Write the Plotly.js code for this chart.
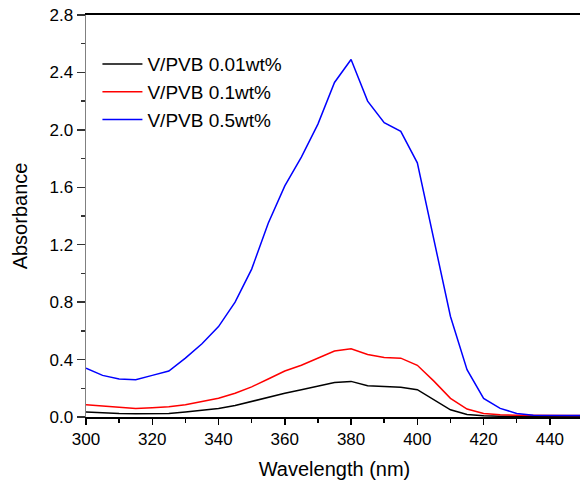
<!DOCTYPE html>
<html>
<head>
<meta charset="utf-8">
<script src="https://cdn.plot.ly/plotly-3.0.1.min.js"></script>
<style>
html,body{margin:0;padding:0;overflow:hidden;background:#fff;}
#chart{width:584px;height:484px;}
</style>
</head>
<body>
<div id="chart"></div>
<script>
const wavelength = [300,305,310,315,320,325,330,335,340,345,350,355,360,365,370,375,380,385,390,395,400,405,410,415,420,425,430,435,440,445,450];
const series001 = [0.035,0.028,0.024,0.022,0.023,0.025,0.035,0.048,0.06,0.08,0.11,0.14,0.165,0.19,0.215,0.24,0.248,0.218,0.212,0.207,0.19,0.12,0.05,0.018,0.008,0.005,0.005,0.005,0.005,0.005,0.005];
const series01 = [0.085,0.075,0.065,0.06,0.065,0.072,0.085,0.105,0.13,0.165,0.21,0.265,0.32,0.36,0.41,0.46,0.475,0.435,0.415,0.41,0.36,0.25,0.13,0.055,0.025,0.015,0.012,0.01,0.01,0.01,0.01];
const series05 = [0.34,0.29,0.265,0.26,0.29,0.32,0.41,0.51,0.63,0.80,1.03,1.35,1.61,1.81,2.04,2.33,2.49,2.20,2.05,1.99,1.77,1.23,0.70,0.33,0.13,0.06,0.025,0.012,0.01,0.01,0.01];
const names = ['V/PVB 0.01wt%','V/PVB 0.1wt%','V/PVB 0.5wt%'];
const colors = ['#000000','#ff0000','#0000ff'];
const xTicks = [300,320,340,360,380,400,420,440];
const yTicks = [0,0.4,0.8,1.2,1.6,2.0,2.4,2.8];
const yTickText = ['0.0','0.4','0.8','1.2','1.6','2.0','2.4','2.8'];

const ys = [series001, series01, series05];
const traces = ys.map((y,i)=>({
  x: wavelength, y: y, type:'scatter', mode:'lines', name: names[i],
  line:{color:colors[i], width:1.5}
}));

const font = 'Arial, "Liberation Sans", sans-serif';
const layout = {
  width:584, height:484,
  margin:{l:86, r:1, t:15, b:67},
  paper_bgcolor:'#fff', plot_bgcolor:'#fff',
  font:{family:font, color:'#000'},
  showlegend:true,
  legend:{x:0.023, y:0.925, xanchor:'left', yanchor:'top', bgcolor:'rgba(0,0,0,0)',
          font:{size:19, family:font, color:'#000'}, tracegroupgap:0, itemwidth:40},
  xaxis:{
    range:[300,450], tickvals:xTicks, ticktext:xTicks.map(String),
    ticks:'outside', ticklen:6, tickwidth:1.5, tickcolor:'#000',
    minor:{dtick:10, tick0:300, ticks:'outside', ticklen:4, tickwidth:1.5, tickcolor:'#000', showgrid:false},
    showline:true, linecolor:'#000', linewidth:2, mirror:true,
    showgrid:false, zeroline:false,
    tickfont:{size:17, family:font, color:'#000'},
    title:{text:'Wavelength (nm)', font:{size:20, family:font, color:'#000'}, standoff:14}
  },
  yaxis:{
    range:[0,2.8], tickvals:yTicks, ticktext:yTickText,
    ticks:'outside', ticklen:8, tickwidth:1.5, tickcolor:'#333',
    minor:{dtick:0.2, tick0:0, ticks:'outside', ticklen:4, tickwidth:1.5, tickcolor:'#333', showgrid:false},
    showline:true, linecolor:'#808080', linewidth:1.5,
    showgrid:false, zeroline:false,
    tickfont:{size:17, family:font, color:'#000'},
    title:{text:'Absorbance', font:{size:20, family:font, color:'#000'}, standoff:16}
  }
};
Plotly.newPlot('chart', traces, layout, {displayModeBar:false, staticPlot:true});
</script>
</body>
</html>
